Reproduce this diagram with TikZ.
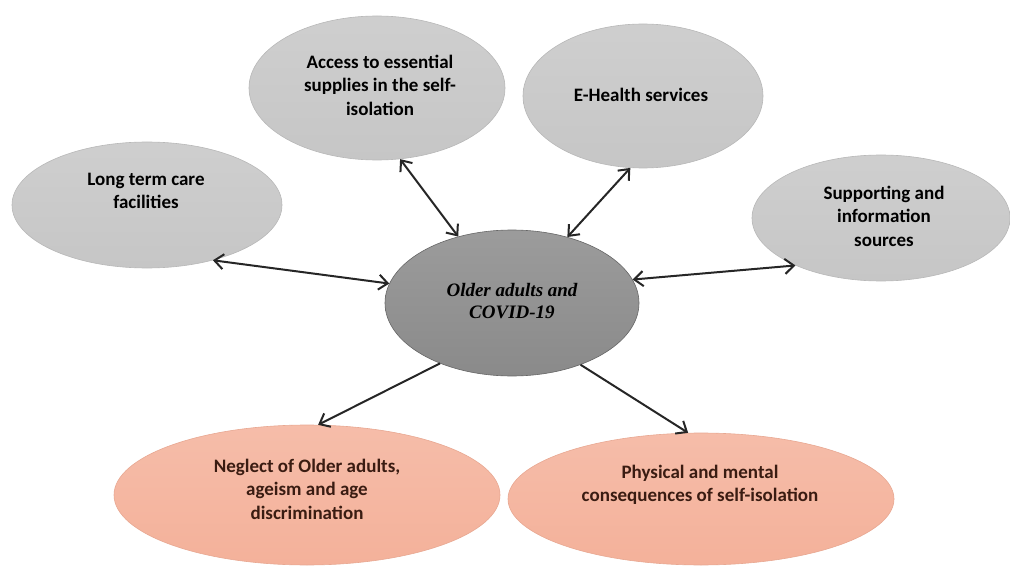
\documentclass[tikz,border=0pt]{standalone}
\usepackage{fontspec}
\setmainfont{Carlito}
\newfontfamily\timesfont{Liberation Serif}
\usetikzlibrary{shapes.geometric,arrows.meta}

\definecolor{bubblegray}{HTML}{C6C6C6}
\definecolor{coregray}{HTML}{8A8A8A}
\definecolor{salmon}{HTML}{F4B19A}
\definecolor{salmontext}{HTML}{3A1C12}

\tikzset{
  bubble/.style={ellipse, inner sep=0pt, draw=#1!93!black, line width=0.6pt,
                 top color=#1!85!white, bottom color=#1},
  bubble/.default=bubblegray,
  txt/.style={align=center, font=\bfseries\fontsize{19}{23.5}\selectfont},
  link/.style={<->, >={Straight Barb[length=9pt,width=15pt]}, line width=2pt, draw=black!85},
  onelink/.style={link, <-}
}

\begin{document}
\begin{tikzpicture}[x=1pt,y=-1pt]
\useasboundingbox (0,0) rectangle (1010,567);

% ellipses
\node[bubble, minimum width=256pt, minimum height=144pt] (access) at (377,88) {};
\node[bubble, minimum width=270pt, minimum height=126pt] (care) at (147,205) {};
\node[bubble, minimum width=240pt, minimum height=144pt] (ehealth) at (643,96) {};
\node[bubble, minimum width=258pt, minimum height=126pt] (support) at (881,218) {};
\node[bubble=coregray, draw=black!60, minimum width=254pt, minimum height=146pt] (core) at (512,303) {};
\node[bubble=salmon, draw=salmon!95!black, minimum width=386pt, minimum height=140pt] (neglect) at (307,495) {};
\node[bubble=salmon, draw=salmon!95!black, minimum width=386pt, minimum height=132pt] (physical) at (701,499) {};

% texts
\node[txt] (access-t) at (380,85) {Access to essential\\supplies in the self-\\isolation};
\node[txt] (care-t) at (146,191) {Long term care\\facilities};
\node[txt] (ehealth-t) at (641,95) {E-Health services};
\node[txt] (support-t) at (884,216) {Supporting and\\information\\sources};
\node[align=center, font=\timesfont\bfseries\itshape\fontsize{19}{22}\selectfont] (core-t) at (512,301) {Older adults and\\COVID-19};
\node[txt, text=salmontext] (neglect-t) at (307,489) {Neglect of Older adults,\\ageism and age\\discrimination};
\node[txt, text=salmontext] (physical-t) at (700,485) {Physical and mental\\consequences of self-isolation};

% connectors
\draw[link] (access.-72) -- (core.129);
\draw[link] (ehealth.-100) -- (core.50);
\draw[link] (care.-40) -- (core.171);
\draw[link] (support.-151) -- (core.11);
\draw[onelink] (neglect.81) -- (core.-140);
\draw[onelink] (physical.101) -- (core.-42);
\end{tikzpicture}
\end{document}
